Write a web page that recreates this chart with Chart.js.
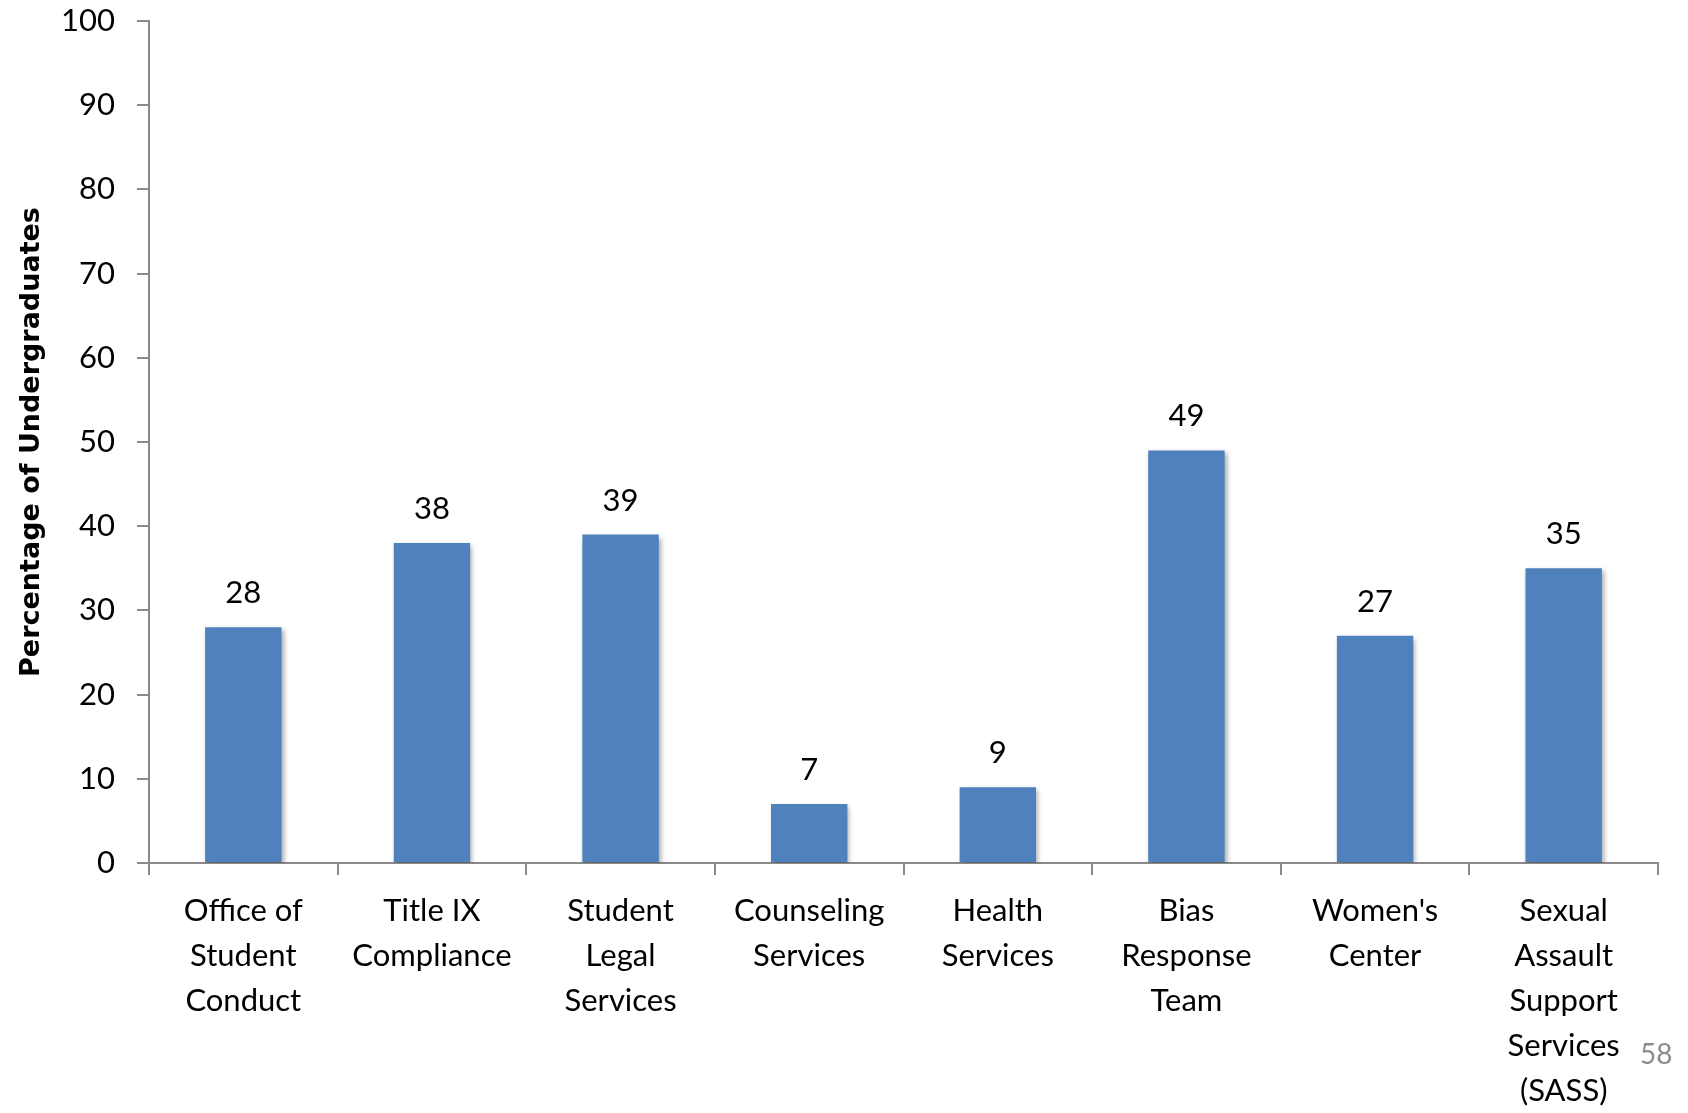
<!DOCTYPE html>
<html>
<head>
<meta charset="utf-8">
<script src="https://cdn.jsdelivr.net/npm/chart.js@4.4.1/dist/chart.umd.min.js"></script>
<style>
  html, body { margin: 0; padding: 0; background: #fff; }
  #wrap { position: relative; width: 1688px; height: 1113px; }
  #pagina {
    position: absolute; left: 1640px; top: 1036px;
    font: 28px Lato, sans-serif; color: #8c8c8c;
  }
</style>
</head>
<body>
<div id="wrap">
  <canvas id="grafico"></canvas>
  <div id="pagina">58</div>
</div>
<script>
// Categorías (servicios) y porcentajes de estudiantes
const servicios = [
  ['Office of', 'Student', 'Conduct'],
  ['Title IX', 'Compliance'],
  ['Student', 'Legal', 'Services'],
  ['Counseling', 'Services'],
  ['Health', 'Services'],
  ['Bias', 'Response', 'Team'],
  ["Women's", 'Center'],
  ['Sexual', 'Assault', 'Support', 'Services', '(SASS)']
];
const porcentajes = [28, 38, 39, 7, 9, 49, 27, 35];
const marcasEjeY = [0, 10, 20, 30, 40, 50, 60, 70, 80, 90, 100];

const fuente = 'Lato, "Open Sans", sans-serif';

// Sombra suave bajo las barras
const sombraBarras = {
  id: 'sombraBarras',
  beforeDatasetsDraw(chart) {
    const ctx = chart.ctx;
    ctx.save();
    ctx.shadowColor = 'rgba(0,0,0,0.35)';
    ctx.shadowBlur = 5;
    ctx.shadowOffsetX = 2;
    ctx.shadowOffsetY = 3;
  },
  afterDatasetsDraw(chart) {
    chart.ctx.restore();
  }
};

// Escribe el valor encima de cada barra
const etiquetasValor = {
  id: 'etiquetasValor',
  afterDatasetsDraw(chart) {
    const ctx = chart.ctx;
    const meta = chart.getDatasetMeta(0);
    ctx.save();
    ctx.font = '31px ' + fuente;
    ctx.fillStyle = '#000';
    ctx.textAlign = 'center';
    ctx.textBaseline = 'middle';
    meta.data.forEach((barra, i) => {
      ctx.fillText(String(porcentajes[i]), barra.x, barra.y - 34);
    });
    ctx.restore();
  }
};

new Chart(document.getElementById('grafico').getContext('2d'), {
  type: 'bar',
  data: {
    labels: servicios,
    datasets: [{
      data: porcentajes,
      backgroundColor: '#4f81bd',
      borderWidth: 0,
      categoryPercentage: 1,
      barPercentage: 0.405
    }]
  },
  options: {
    responsive: true,
    maintainAspectRatio: false,
    animation: false,
    layout: { padding: { top: 21, right: 30, left: 16, bottom: 0 } },
    plugins: {
      legend: { display: false },
      tooltip: { enabled: false }
    },
    scales: {
      x: {
        offset: true,
        grid: {
          offset: true,
          drawOnChartArea: false,
          drawTicks: true,
          tickLength: 12,
          color: '#8a8a8a',
          lineWidth: 2
        },
        border: { color: '#8a8a8a', width: 2 },
        ticks: {
          color: '#000',
          maxRotation: 0,
          autoSkip: false,
          padding: 14,
          font: { family: fuente, size: 31, lineHeight: 1.45 }
        },
        afterFit(scale) {
          scale.height = 1113 - 863;
          scale.paddingLeft = 0;
          scale.paddingRight = 0;
        }
      },
      y: {
        min: 0,
        max: 100,
        afterBuildTicks(scale) {
          scale.ticks = marcasEjeY.map(v => ({ value: v }));
        },
        grid: {
          drawOnChartArea: false,
          drawTicks: true,
          tickLength: 12,
          color: '#8a8a8a',
          lineWidth: 2
        },
        border: { color: '#8a8a8a', width: 2 },
        ticks: {
          color: '#000',
          padding: 22,
          font: { family: fuente, size: 31 }
        },
        title: {
          display: true,
          text: 'Percentage of Undergraduates',
          color: '#000',
          padding: { top: 0, bottom: 0 },
          font: { family: '"DejaVu Sans", sans-serif', size: 27, weight: 'bold' }
        },
        afterFit(scale) {
          scale.width = 133;
          scale.paddingTop = 0;
          scale.paddingBottom = 0;
        }
      }
    }
  },
  plugins: [sombraBarras, etiquetasValor]
});
</script>
</body>
</html>
